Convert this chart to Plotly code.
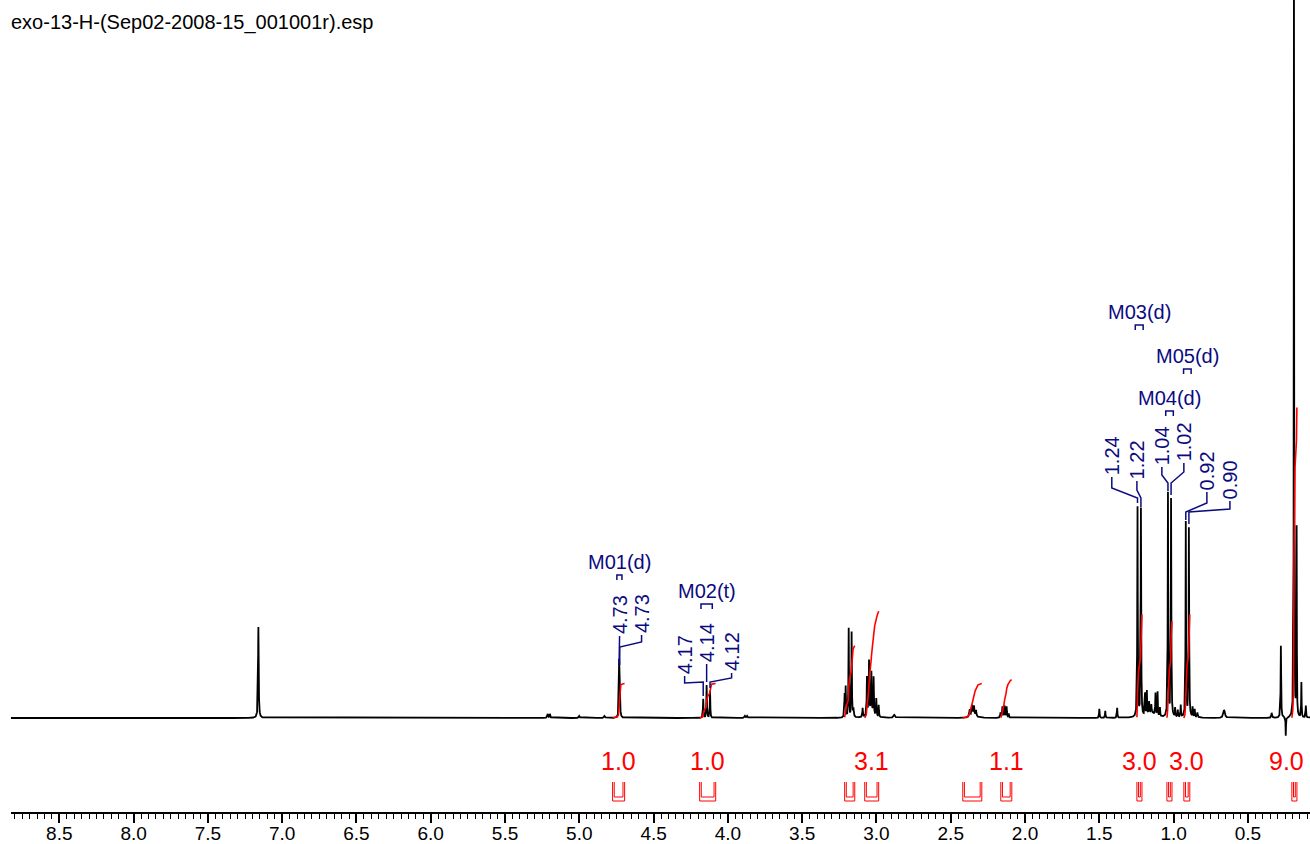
import numpy as np
import plotly.graph_objects as go

# ---------------- spectrum data ----------------
# assigned multiplets: line positions (ppm) and line intensities
mult_names = ["M01(d)", "M02(t)", "M03(d)", "M04(d)", "M05(d)"]
mult_ppm = [[4.732, 4.728], [4.166, 4.143, 4.120], [1.243, 1.220], [1.038, 1.017], [0.918, 0.897]]
mult_int = [[50, 50], [19, 33, 27], [212, 208], [224, 220], [195, 191]]

# remaining resonances: position (ppm), intensity, half-width at half-height (ppm)
other_ppm = [7.160, 5.213, 5.198, 5.000, 4.830, 3.885, 3.870,
             3.214, 3.207, 3.187, 3.167, 3.155,
             3.093, 3.064, 3.050, 3.034, 3.019, 3.001, 2.985, 3.040, 2.880,
             2.372, 2.357, 2.344, 2.330, 2.350,
             2.165, 2.152, 2.138, 2.124, 2.110,
             1.500, 1.460, 1.380,
             1.192, 1.180, 1.165, 1.150, 1.122, 1.108, 1.092, 1.150,
             0.990, 0.972, 0.952, 0.872, 0.858, 0.840, 0.660,
             0.340, 0.278, 0.245, 0.190, 0.172, 0.140, 0.110]
other_int = [91, 4, 4, 2, 2, 2, 2,
             22, 30, 90, 86, 8,
             9, 38, 52, 40, 38, 18, 12, 6, 3,
             7, 10, 9, 6, 3,
             5, 11, 12, 11, 4,
             9, 7, 10,
             22, 24, 12, 8, 22, 24, 9, 5,
             9, 7, 12, 10, 8, 5, 8,
             5, 72, -19, 780, 188, 35, 12]
other_hwhm = [0.0024, 0.003, 0.003, 0.004, 0.004, 0.004, 0.004,
              0.002, 0.002, 0.0018, 0.0018, 0.003,
              0.002, 0.002, 0.002, 0.002, 0.002, 0.002, 0.002, 0.02, 0.006,
              0.003, 0.003, 0.003, 0.003, 0.02,
              0.0025, 0.0025, 0.0025, 0.0025, 0.0025,
              0.002, 0.002, 0.002,
              0.0018, 0.0018, 0.002, 0.002, 0.0018, 0.0018, 0.002, 0.03,
              0.002, 0.002, 0.002, 0.002, 0.002, 0.003, 0.006,
              0.003, 0.002, 0.0015, 0.0014, 0.0014, 0.0016, 0.002]
mult_hwhm = 0.0019

# integral regions (ppm, from high to low field), normalised values, printed or not
int_start = [4.776, 4.190, 3.214, 3.079, 2.419, 2.163, 1.247, 1.045, 0.931, 0.204]
int_end = [4.695, 4.082, 3.146, 2.985, 2.291, 2.089, 1.213, 1.011, 0.891, 0.170]
int_value = [1.0, 1.0, 2.1, 3.1, 1.0, 1.1, 3.0, 2.8, 3.0, 9.0]
int_printed = [True, True, False, True, False, True, True, False, True, True]

title_text = "exo-13-H-(Sep02-2008-15_001001r).esp"

# ---------------- layout constants ----------------
NAVY = "#0b0b80"
RED = "#ff0000"
FONT = "Liberation Sans, Arial, Helvetica, sans-serif"
X_RANGE = [8.825, 0.082]
Y_RANGE = [-94, 718]
INT_SCALE = 34.5          # curve height per integral unit

# peak-label leaders per multiplet: label x (ppm), elbow height, label bottom height, join height
lead_x = [[4.729, 4.581], [4.291, 4.143, 3.975], [1.416, 1.247], [1.079, 0.931], [0.776, 0.621]]
lead_elbow = [[71, 76], [35, 36, 40], [230, 228], [243, 246], [215, 209]]
lead_bottom = [[82, 83], [42, 54, 45], [241, 237], [251, 255], [226, 217]]
lead_join = [71, 36, 220, 235, 206]
mult_bracket_h = [143, 114, 393, 307, 349]

# ---------------- build spectrum ----------------
ppm = np.arange(-0.05, 9.0, 0.0004)
spec = np.zeros_like(ppm)


def lorentz(x0, h, w):
    return h * w * w / ((ppm - x0) ** 2 + w * w)


for grp_p, grp_h in zip(mult_ppm, mult_int):
    for p, h in zip(grp_p, grp_h):
        spec += lorentz(p, h, mult_hwhm)
for p, h, w in zip(other_ppm, other_int, other_hwhm):
    spec += lorentz(p, h, w)

fig = go.Figure()
fig.add_trace(go.Scatter(x=ppm, y=spec, mode="lines",
                         line=dict(color="black", width=1.8), hoverinfo="skip"))

annotations = []

# ---------------- integrals ----------------
bx, by = [], []
for a, b, v, shown in zip(int_start, int_end, int_value, int_printed):
    m = (ppm <= a) & (ppm >= b)
    xs = ppm[m][::-1]
    ys = np.cumsum(spec[m][::-1])
    ys = ys / ys[-1] * v * INT_SCALE
    fig.add_trace(go.Scatter(x=xs, y=ys, mode="lines",
                             line=dict(color=RED, width=1.6), hoverinfo="skip"))
    d = 0.011
    bx += [a, a, b, b, None, a - d, a - d, b + d, b + d, None]
    by += [-64, -83, -83, -64, None, -64, -79, -79, -64, None]
    if shown:
        annotations.append(dict(x=(a + b) / 2, y=-43, text=f"{v:.1f}", showarrow=False,
                                xanchor="center", yanchor="middle",
                                xshift=-8 if b < 0.3 else 0,
                                font=dict(family=FONT, size=25, color=RED)))
fig.add_trace(go.Scatter(x=bx, y=by, mode="lines",
                         line=dict(color=RED, width=1), hoverinfo="skip"))

# ---------------- multiplet labels ----------------
lx, ly = [], []
for i, name in enumerate(mult_names):
    grp_p, grp_h = mult_ppm[i], mult_int[i]
    for j, (p, h) in enumerate(zip(grp_p, grp_h)):
        xl = lead_x[i][j]
        lx += [p, p, xl, xl, None]
        ly += [h + 3, lead_join[i], lead_elbow[i][j], lead_bottom[i][j], None]
        annotations.append(dict(x=xl, y=lead_bottom[i][j], text=f"{p:.2f}", textangle=-90,
                                showarrow=False, xanchor="center", yanchor="bottom",
                                font=dict(family=FONT, size=20, color=NAVY)))
    c = (max(grp_p) + min(grp_p)) / 2
    hw = (max(grp_p) - min(grp_p)) / 2 + 0.015
    bh = mult_bracket_h[i]
    lx += [c + hw, c + hw, c - hw, c - hw, None]
    ly += [bh - 5, bh, bh, bh - 5, None]
    annotations.append(dict(x=c, y=bh + 13, text=name, showarrow=False,
                            xanchor="center", yanchor="middle",
                            font=dict(family=FONT, size=20, color=NAVY)))
fig.add_trace(go.Scatter(x=lx, y=ly, mode="lines",
                         line=dict(color=NAVY, width=1.5), hoverinfo="skip"))

annotations.append(dict(x=0, y=1 - 22 / 812, xref="paper", yref="paper", text=title_text,
                        showarrow=False, xanchor="left", yanchor="middle", xshift=-2,
                        font=dict(family=FONT, size=20, color="black")))

fig.update_layout(
    width=1310, height=844,
    margin=dict(l=11, r=0, t=0, b=32, autoexpand=False),
    paper_bgcolor="white", plot_bgcolor="white",
    showlegend=False,
    annotations=annotations,
    xaxis=dict(range=X_RANGE, showgrid=False, zeroline=False, automargin=False,
               showline=True, linecolor="black", linewidth=2,
               ticks="outside", ticklen=9, tickwidth=1.5, tickcolor="black",
               tick0=0, dtick=0.5, tickformat=".1f", ticklabelstandoff=-6,
               tickfont=dict(family=FONT, size=19, color="black"),
               minor=dict(ticks="outside", ticklen=5, tickwidth=1, tickcolor="black", dtick=0.05),
               fixedrange=True),
    yaxis=dict(range=Y_RANGE, visible=False, fixedrange=True, automargin=False),
)

fig.write_html("out.html")
